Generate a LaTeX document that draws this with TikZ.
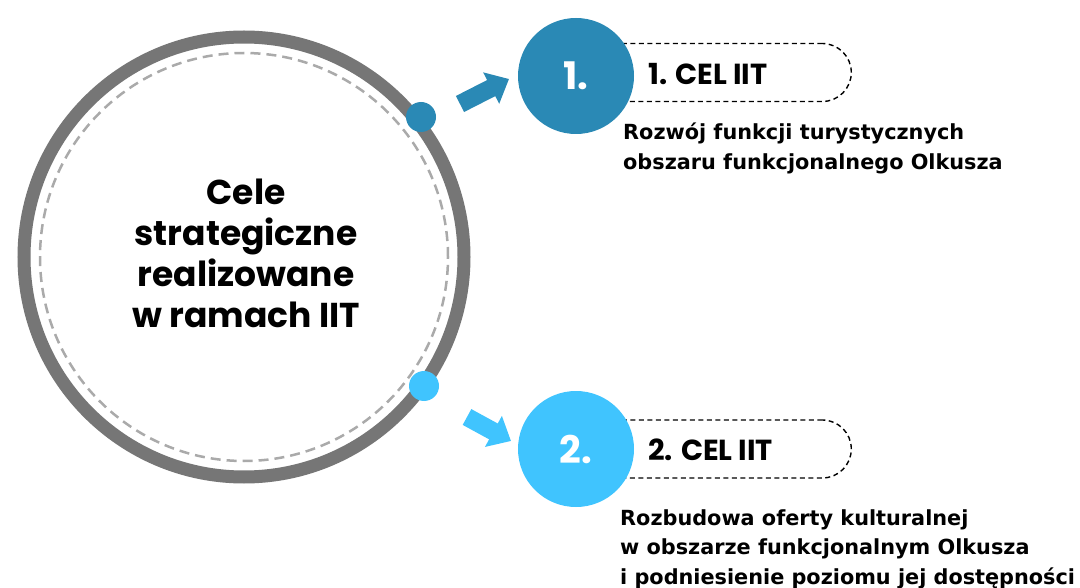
\documentclass[tikz,border=0pt]{standalone}
\usepackage{fontspec}
\setmainfont{DejaVu Sans}
\newfontfamily\headfont{Poppins}
\newfontfamily\descfont{DejaVu Sans}
\usetikzlibrary{arrows.meta}
\definecolor{cone}{HTML}{2A89B5}
\definecolor{ctwo}{HTML}{40C4FE}
\definecolor{ringgray}{HTML}{767676}
\definecolor{dashgray}{HTML}{AAAAAA}
\tikzset{
  mainring/.style={circle, draw=ringgray, line width=13pt, minimum size=440pt, inner sep=0pt},
  innerdash/.style={circle, draw=dashgray, line width=2.5pt, dash pattern=on 10pt off 6pt, minimum size=408pt, inner sep=0pt},
  dot/.style={circle, fill=#1, minimum size=30pt, inner sep=0pt},
  numcirc/.style={circle, fill=#1, minimum size=116pt, inner sep=0pt, text=white, font=\headfont\bfseries\fontsize{38}{42}\selectfont},
  pill/.style={draw=black, line width=1.4pt, dash pattern=on 5pt off 3.5pt, rounded corners=29pt, minimum width=300pt, minimum height=58pt, inner sep=0pt, anchor=east},
  pilltext/.style={anchor=west, inner sep=0pt, font=\headfont\bfseries\fontsize{29}{32}\selectfont},
  desc/.style={anchor=north west, inner sep=0pt, align=left, font=\descfont\bfseries\fontsize{20.8}{29.5}\selectfont},
  blockarrow/.style={draw=#1, line width=18pt, -{Triangle[width=34pt,length=20pt]}},
  maintext/.style={align=center, inner sep=0pt, font=\headfont\bfseries\fontsize{34.5}{41}\selectfont}
}
\begin{document}
\begin{tikzpicture}[x=1pt,y=-1pt]
\useasboundingbox[fill=white] (0,0) rectangle (1080,588);
% central circle
\node[mainring] (main) at (244,257) {};
\node[innerdash] (inner) at (244,257) {};
\node[maintext] (title) at (246,253) {Cele\\strategiczne\\realizowane\\w ramach IIT};
\node[dot=cone] (d1) at (421,117) {};
\node[dot=ctwo] (d2) at (424,386) {};
% goal 1
\node[pill] (p1) at (852,72.5) {};
\node[numcirc=cone] (n1) at (576,76) {1.};
\node[pilltext] (l1) at (648,74) {1. CEL IIT};
\node[desc] (t1) at (623,123) {Rozwój funkcji turystycznych\\obszaru funkcjonalnego Olkusza};
% goal 2
\node[pill] (p2) at (852,449) {};
\node[numcirc=ctwo] (n2) at (576,449) {2.};
\node[pilltext] (l2) at (648,450) {2. CEL IIT};
\node[desc] (t2) at (620,509) {Rozbudowa oferty kulturalnej\\w obszarze funkcjonalnym Olkusza\\i podniesienie poziomu jej dostępności};
% arrows
\coordinate (a1s) at (460,104);
\coordinate (a1e) at (509,79);
\coordinate (a2s) at (467,417);
\coordinate (a2e) at (511,441);
\draw[blockarrow=cone] (a1s) -- (a1e);
\draw[blockarrow=ctwo] (a2s) -- (a2e);
\end{tikzpicture}
\end{document}
